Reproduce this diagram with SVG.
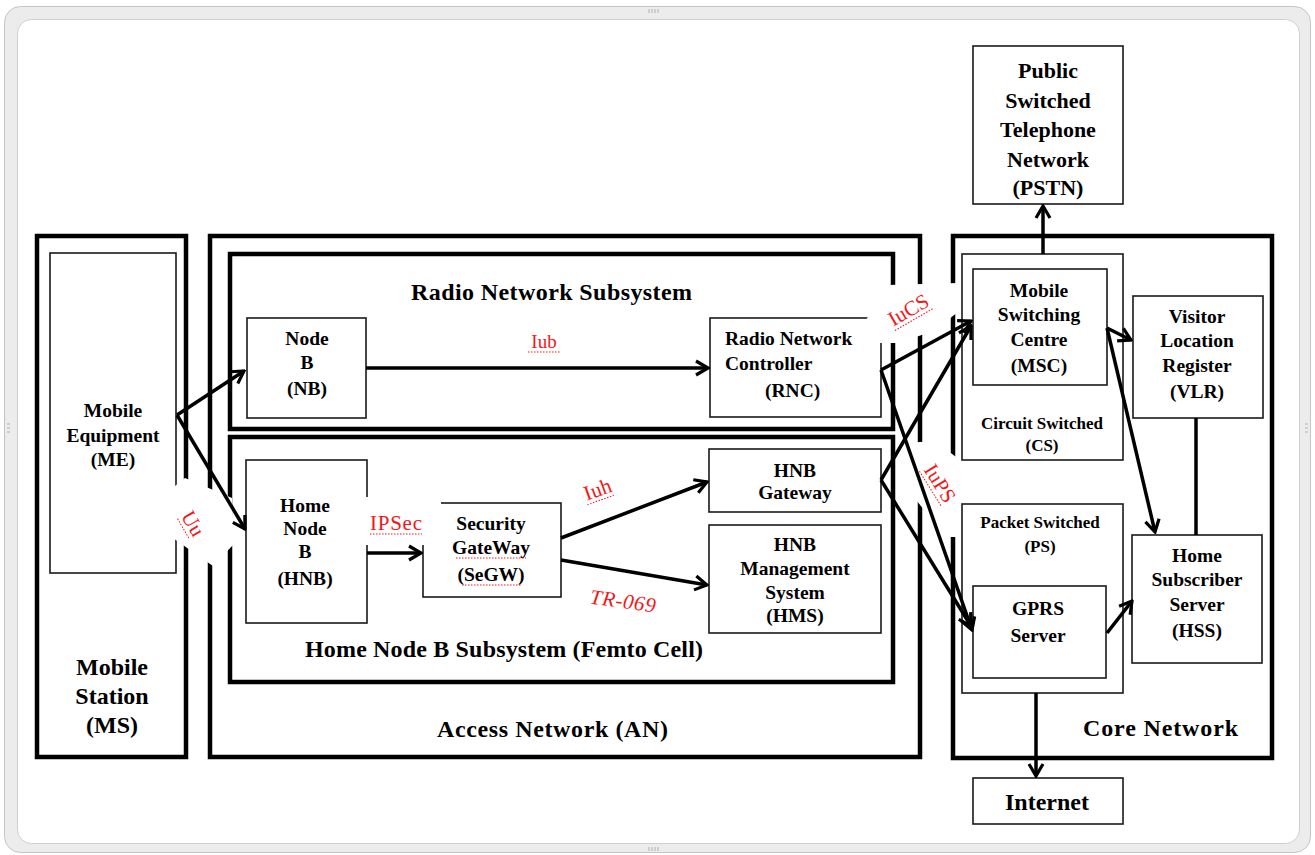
<svg xmlns="http://www.w3.org/2000/svg" width="1315" height="855" viewBox="0 0 1315 855">
<defs>
<style>
.thick{fill:none;stroke:#000;stroke-width:4.5}
.thin{fill:#fff;stroke:#1a1a1a;stroke-width:1.6}
.thinbox{fill:none;stroke:#1a1a1a;stroke-width:1.6}
.t{font-family:"Liberation Serif","Times New Roman",serif;font-weight:bold;font-size:19.5px;fill:#000;text-anchor:middle}
.s{font-family:"Liberation Serif","Times New Roman",serif;font-weight:bold;font-size:17px;fill:#000;text-anchor:middle}
.h{font-family:"Liberation Serif","Times New Roman",serif;font-weight:bold;font-size:24px;fill:#000}
.hc{font-family:"Liberation Serif","Times New Roman",serif;font-weight:bold;font-size:24px;fill:#000;text-anchor:middle}
.red{font-family:"Liberation Serif","Times New Roman",serif;font-size:21px;fill:#f01818;text-anchor:middle}
.sq{fill:none;stroke:#f01818;stroke-width:1;stroke-dasharray:1.5 1.5}
.c{fill:none;stroke:#000;stroke-width:3.5;marker-end:url(#arr)}
.cl{fill:none;stroke:#000;stroke-width:3.5}
.mask{fill:#fff;stroke:none}
</style>
<marker id="arr" viewBox="0 0 16 18" refX="14" refY="9" markerWidth="16" markerHeight="18" markerUnits="userSpaceOnUse" orient="auto">
<path d="M2,2 L14,9 L2,16" fill="none" stroke="#000" stroke-width="3.2"/>
</marker>
</defs>

<!-- window frame -->
<g id="frame">
<rect x="4.5" y="6.5" width="1306" height="846" rx="16" fill="#ececec" stroke="#c4c4c4"/>
<rect x="17.5" y="19.5" width="1282" height="824" rx="14" fill="#fff" stroke="#cfcfcf"/>
<g stroke="#b0b0b0" stroke-width="1">
<path d="M649,9v4M652,9v4M655,9v4M658,9v4M649,847v4M652,847v4M655,847v4M658,847v4"/>
<path d="M7,424h3M7,428h3M7,432h3M1305,424h3M1305,428h3M1305,432h3"/>
</g>
</g>

<!-- containers -->
<g id="mobile-station">
<rect class="thick" x="37" y="236" width="149" height="521"/>
<text class="hc" x="112" y="675">Mobile</text>
<text class="hc" x="112" y="704">Station</text>
<text class="hc" x="112" y="733">(MS)</text>
</g>
<g id="access-network">
<rect class="thick" x="210" y="236" width="710" height="521"/>
<text class="h" x="437" y="737" textLength="231" lengthAdjust="spacing">Access Network (AN)</text>
</g>
<g id="radio-network-subsystem">
<rect class="thick" x="230" y="254" width="663" height="175"/>
<text class="h" x="411" y="300" textLength="281" lengthAdjust="spacing">Radio Network Subsystem</text>
</g>
<g id="hnb-subsystem">
<rect class="thick" x="230" y="437" width="663" height="245"/>
<text class="h" x="305" y="657" textLength="398" lengthAdjust="spacing">Home Node B Subsystem (Femto Cell)</text>
</g>
<g id="core-network">
<rect class="thick" x="953" y="236" width="319" height="522"/>
<text class="h" x="1083" y="736" textLength="155" lengthAdjust="spacing">Core Network</text>
</g>
<g id="circuit-switched">
<rect class="thinbox" x="962" y="254" width="161" height="206"/>
<text class="s" x="1042" y="429">Circuit Switched</text>
<text class="s" x="1042" y="451">(CS)</text>
</g>
<g id="packet-switched">
<rect class="thinbox" x="962" y="504" width="161" height="189"/>
<text class="s" x="1040" y="528">Packet Switched</text>
<text class="s" x="1040" y="552">(PS)</text>
</g>

<!-- nodes -->
<g id="me">
<rect class="thin" x="50" y="253" width="126" height="320"/>
<text class="t" x="113" y="417">Mobile</text>
<text class="t" x="113" y="442">Equipment</text>
<text class="t" x="113" y="466">(ME)</text>
</g>
<g id="nb">
<rect class="thin" x="247" y="318" width="119" height="100"/>
<text class="t" x="307" y="345">Node</text>
<text class="t" x="307" y="369">B</text>
<text class="t" x="307" y="395">(NB)</text>
</g>
<g id="rnc">
<rect class="thin" x="710" y="318" width="171" height="99"/>
<text class="t" x="725" y="345" style="text-anchor:start">Radio Network</text>
<text class="t" x="725" y="370" style="text-anchor:start">Controller</text>
<text class="t" x="765" y="397" style="text-anchor:start">(RNC)</text>
</g>
<g id="hnb">
<rect class="thin" x="246" y="460" width="121" height="163"/>
<text class="t" x="305" y="512">Home</text>
<text class="t" x="305" y="535">Node</text>
<text class="t" x="305" y="558">B</text>
<text class="t" x="305" y="585">(HNB)</text>
</g>
<g id="segw">
<rect class="thin" x="423" y="503" width="138" height="94"/>
<text class="t" x="491" y="530">Security</text>
<text class="t" x="491" y="554">GateWay</text>
<text class="t" x="491" y="581">(SeGW)</text>
<path class="sq" d="M456,558h70M462,585h60"/>
</g>
<g id="hnb-gateway">
<rect class="thin" x="709" y="449" width="172" height="63"/>
<text class="t" x="795" y="477">HNB</text>
<text class="t" x="795" y="499">Gateway</text>
</g>
<g id="hms">
<rect class="thin" x="709" y="525" width="172" height="108"/>
<text class="t" x="795" y="551">HNB</text>
<text class="t" x="795" y="575">Management</text>
<text class="t" x="795" y="599">System</text>
<text class="t" x="795" y="622">(HMS)</text>
</g>
<g id="msc">
<rect class="thin" x="973" y="269" width="134" height="116"/>
<text class="t" x="1039" y="297">Mobile</text>
<text class="t" x="1039" y="321">Switching</text>
<text class="t" x="1039" y="346">Centre</text>
<text class="t" x="1039" y="372">(MSC)</text>
</g>
<g id="vlr">
<rect class="thin" x="1133" y="296" width="130" height="122"/>
<text class="t" x="1197" y="323">Visitor</text>
<text class="t" x="1197" y="347">Location</text>
<text class="t" x="1197" y="372">Register</text>
<text class="t" x="1197" y="398">(VLR)</text>
</g>
<g id="gprs">
<rect class="thin" x="973" y="586" width="133" height="92"/>
<text class="t" x="1038" y="615">GPRS</text>
<text class="t" x="1038" y="642">Server</text>
</g>
<g id="hss">
<rect class="thin" x="1132" y="535" width="130" height="128"/>
<text class="t" x="1197" y="562">Home</text>
<text class="t" x="1197" y="586">Subscriber</text>
<text class="t" x="1197" y="611">Server</text>
<text class="t" x="1197" y="637">(HSS)</text>
</g>
<g id="pstn">
<rect class="thin" x="973" y="46" width="150" height="158"/>
<text class="hc" x="1048" y="78" style="font-size:22px">Public</text>
<text class="hc" x="1048" y="108" style="font-size:22px">Switched</text>
<text class="hc" x="1048" y="137" style="font-size:22px">Telephone</text>
<text class="hc" x="1048" y="167" style="font-size:22px">Network</text>
<text class="hc" x="1048" y="195" style="font-size:22px">(PSTN)</text>
</g>
<g id="internet">
<rect class="thin" x="973" y="778" width="150" height="46"/>
<text class="hc" x="1047" y="810" style="font-size:24px">Internet</text>
</g>

<!-- white label backgrounds that interrupt the borders -->
<g id="label-gaps">
<polygon class="mask" points="170,490 185,478 232,498 234,544 213,566 170,536"/>
<rect class="mask" x="362" y="497" width="79" height="48"/>
<polygon class="mask" points="863,343 866,320 888,285 958,283 958,312 935,330 900,343"/>
<polygon class="mask" points="905,443 935,441 960,460 960,537 946,537 912,495"/>
</g>

<!-- connectors -->
<g id="connectors">
<path class="c" d="M177,415 L244,371"/>
<path class="c" d="M177,415 L245,529"/>
<path class="c" d="M366,368 L708,368"/>
<path class="c" d="M367,553 L421,553"/>
<path class="c" d="M561,538 L707,482"/>
<path class="c" d="M561,560 L707,585"/>
<path class="c" d="M881,370 L971,321"/>
<path class="c" d="M881,370 L972,630"/>
<path class="c" d="M881,480 L971,326"/>
<path class="c" d="M881,480 L971,626"/>
<path class="c" d="M1043,254 L1043,206"/>
<path class="c" d="M1107,328 L1131,340"/>
<path class="c" d="M1107,328 L1155,532"/>
<path class="cl" d="M1196,418 L1196,535"/>
<path class="c" d="M1107,633 L1132,601"/>
<path class="c" d="M1036,693 L1036,776"/>
</g>

<!-- interface labels -->
<g id="labels">
<g transform="translate(544,348)"><text class="red" x="0" y="0" style="font-size:19px">Iub</text><path class="sq" d="M-16,4h32"/></g>
<g transform="translate(396,530)"><text class="red" x="0" y="0" textLength="52" lengthAdjust="spacing">IPSec</text><path class="sq" d="M-26,4h52"/></g>
<g transform="translate(600,496) rotate(-20)"><text class="red" x="0" y="0">Iuh</text><path class="sq" d="M-15,4h30"/></g>
<g transform="translate(622,608) rotate(8)"><text class="red" x="0" y="0" style="font-style:italic" textLength="66" lengthAdjust="spacing">TR-069</text></g>
<g transform="translate(912,316) rotate(-30)"><text class="red" x="0" y="0">IuCS</text><path class="sq" d="M-22,4h44"/></g>
<g transform="translate(934,487) rotate(58)"><text class="red" x="0" y="0">IuPS</text><path class="sq" d="M-21,4h42"/></g>
<g transform="translate(187,527) rotate(60)"><text class="red" x="0" y="0">Uu</text><path class="sq" d="M-12,4h24"/></g>
</g>
</svg>
